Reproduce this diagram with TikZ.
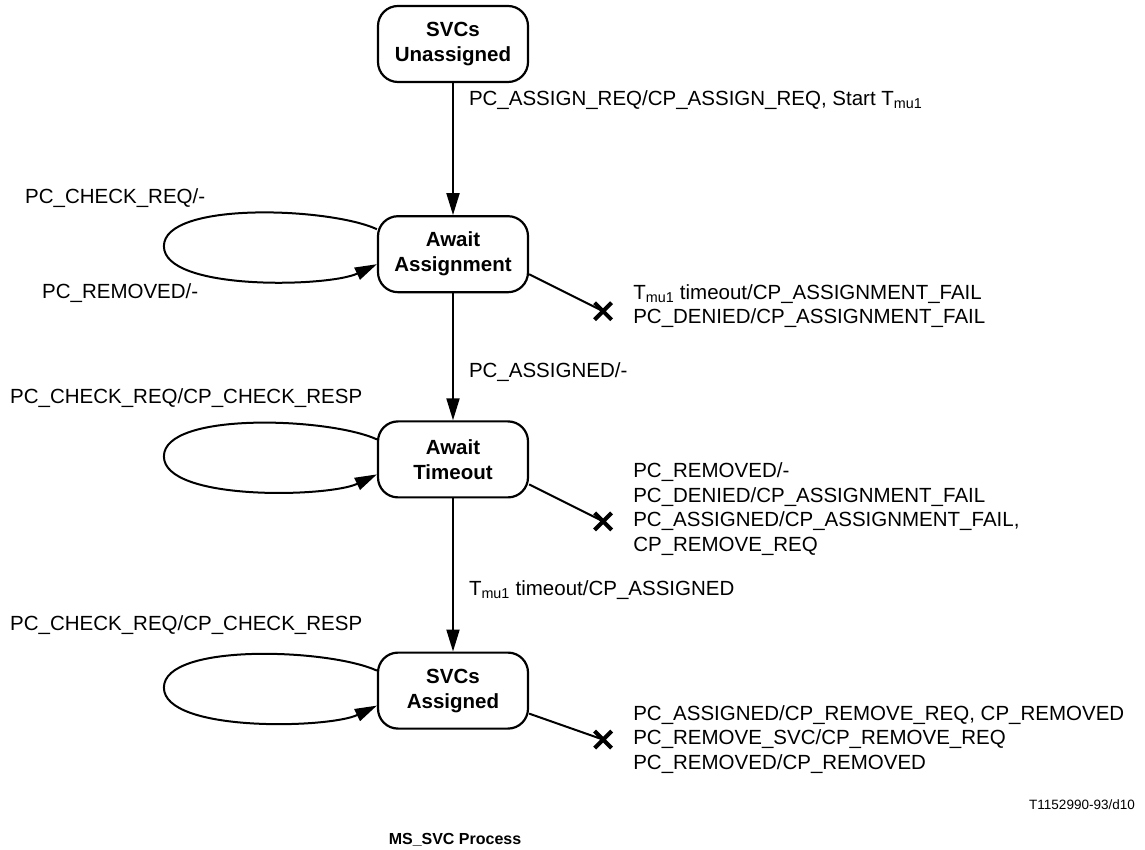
\documentclass[tikz,border=0pt]{standalone}
\usepackage{fontspec}
\setmainfont{Liberation Sans}
\usepackage{tikz}
\usetikzlibrary{positioning,arrows.meta,calc,shapes.misc}

\tikzset{
  svcstate/.style={draw, line width=2.2pt, rounded corners=20pt,
    minimum width=150pt, minimum height=76pt, align=center,
    font=\fontsize{20.5}{25}\selectfont\bfseries},
  trans/.style={line width=2pt, -{Triangle[length=22pt,width=13pt]}},
  exitline/.style={line width=2pt},
  kill/.style={cross out, draw, line width=4pt, minimum size=13pt, inner sep=0pt},
  lbl/.style={font=\fontsize{20.5}{24.5}\selectfont, align=left, anchor=west, inner sep=0pt},
}

\begin{document}
\begin{tikzpicture}[x=1pt,y=1pt]
  \useasboundingbox (0,0) rectangle (1145,849);

  % states
  \node[svcstate] (su) at (453,805) {SVCs\\Unassigned};
  \node[svcstate, below=132pt of su] (aa) {Await\\Assignment};
  \node[svcstate, below=127pt of aa] (at) {Await\\Timeout};
  \node[svcstate, below=153pt of at] (sa) {SVCs\\Assigned};

  % main transitions
  \draw[trans] (su) -- node[lbl, pos=0.13, xshift=15pt]
    {PC\_ASSIGN\_REQ/CP\_ASSIGN\_REQ, Start T\textsubscript{mu1}} (aa);
  \draw[trans] (aa) -- node[lbl, pos=0.62, xshift=15pt] {PC\_ASSIGNED/-} (at);
  \draw[trans] (at) -- node[lbl, pos=0.60, xshift=15pt]
    {T\textsubscript{mu1} timeout/CP\_ASSIGNED} (sa);

  % self loops
  \foreach \n/\s in {aa/5,at/0,sa/0}
    \draw[trans] ($(\n.west)+(0,20+\s)$) .. controls +(-48,22) and +(0,45) ..
      ($(\n.west)+(-213,3+\s)$) .. controls +(0,-45) and +(-48,-23) ..
      ($(\n.west)+(0,-15+\s)$);

  \node[lbl] (l1) at (25,651) {PC\_CHECK\_REQ/-};
  \node[lbl] (l2) at (42,556) {PC\_REMOVED/-};
  \node[lbl] (l3) at (10,451) {PC\_CHECK\_REQ/CP\_CHECK\_RESP};
  \node[lbl] (l4) at (10,224) {PC\_CHECK\_REQ/CP\_CHECK\_RESP};

  % exits
  \node[kill] (k1) at ($(aa.east)+(74,-57)$) {};
  \node[kill] (k2) at ($(at.east)+(74,-62)$) {};
  \node[kill] (k3) at ($(sa.east)+(74,-49)$) {};
  \draw[exitline] ($(aa.east)+(0,-20)$) -- (k1.center);
  \draw[exitline] ($(at.east)+(0,-25)$) -- (k2.center);
  \draw[exitline] ($(sa.east)+(0,-23)$) -- (k3.center);

  \node[lbl] (e1) at ($(k1)+(30,5)$)
    {T\textsubscript{mu1} timeout/CP\_ASSIGNMENT\_FAIL\\PC\_DENIED/CP\_ASSIGNMENT\_FAIL};
  \node[lbl] (e2) at ($(k2)+(30,12.5)$)
    {PC\_REMOVED/-\\PC\_DENIED/CP\_ASSIGNMENT\_FAIL\\PC\_ASSIGNED/CP\_ASSIGNMENT\_FAIL,\\CP\_REMOVE\_REQ};
  \node[lbl] (e3) at ($(k3)+(30,0)$)
    {PC\_ASSIGNED/CP\_REMOVE\_REQ, CP\_REMOVED\\PC\_REMOVE\_SVC/CP\_REMOVE\_REQ\\PC\_REMOVED/CP\_REMOVED};

  % footer
  \node[anchor=east, inner sep=0pt, font=\fontsize{13.5}{16}\selectfont] (ref) at (1135,44) {T1152990-93/d10};
  \node[inner sep=0pt, font=\fontsize{16}{19}\selectfont\bfseries] (title) at (455,9) {MS\_SVC Process};
\end{tikzpicture}
\end{document}
